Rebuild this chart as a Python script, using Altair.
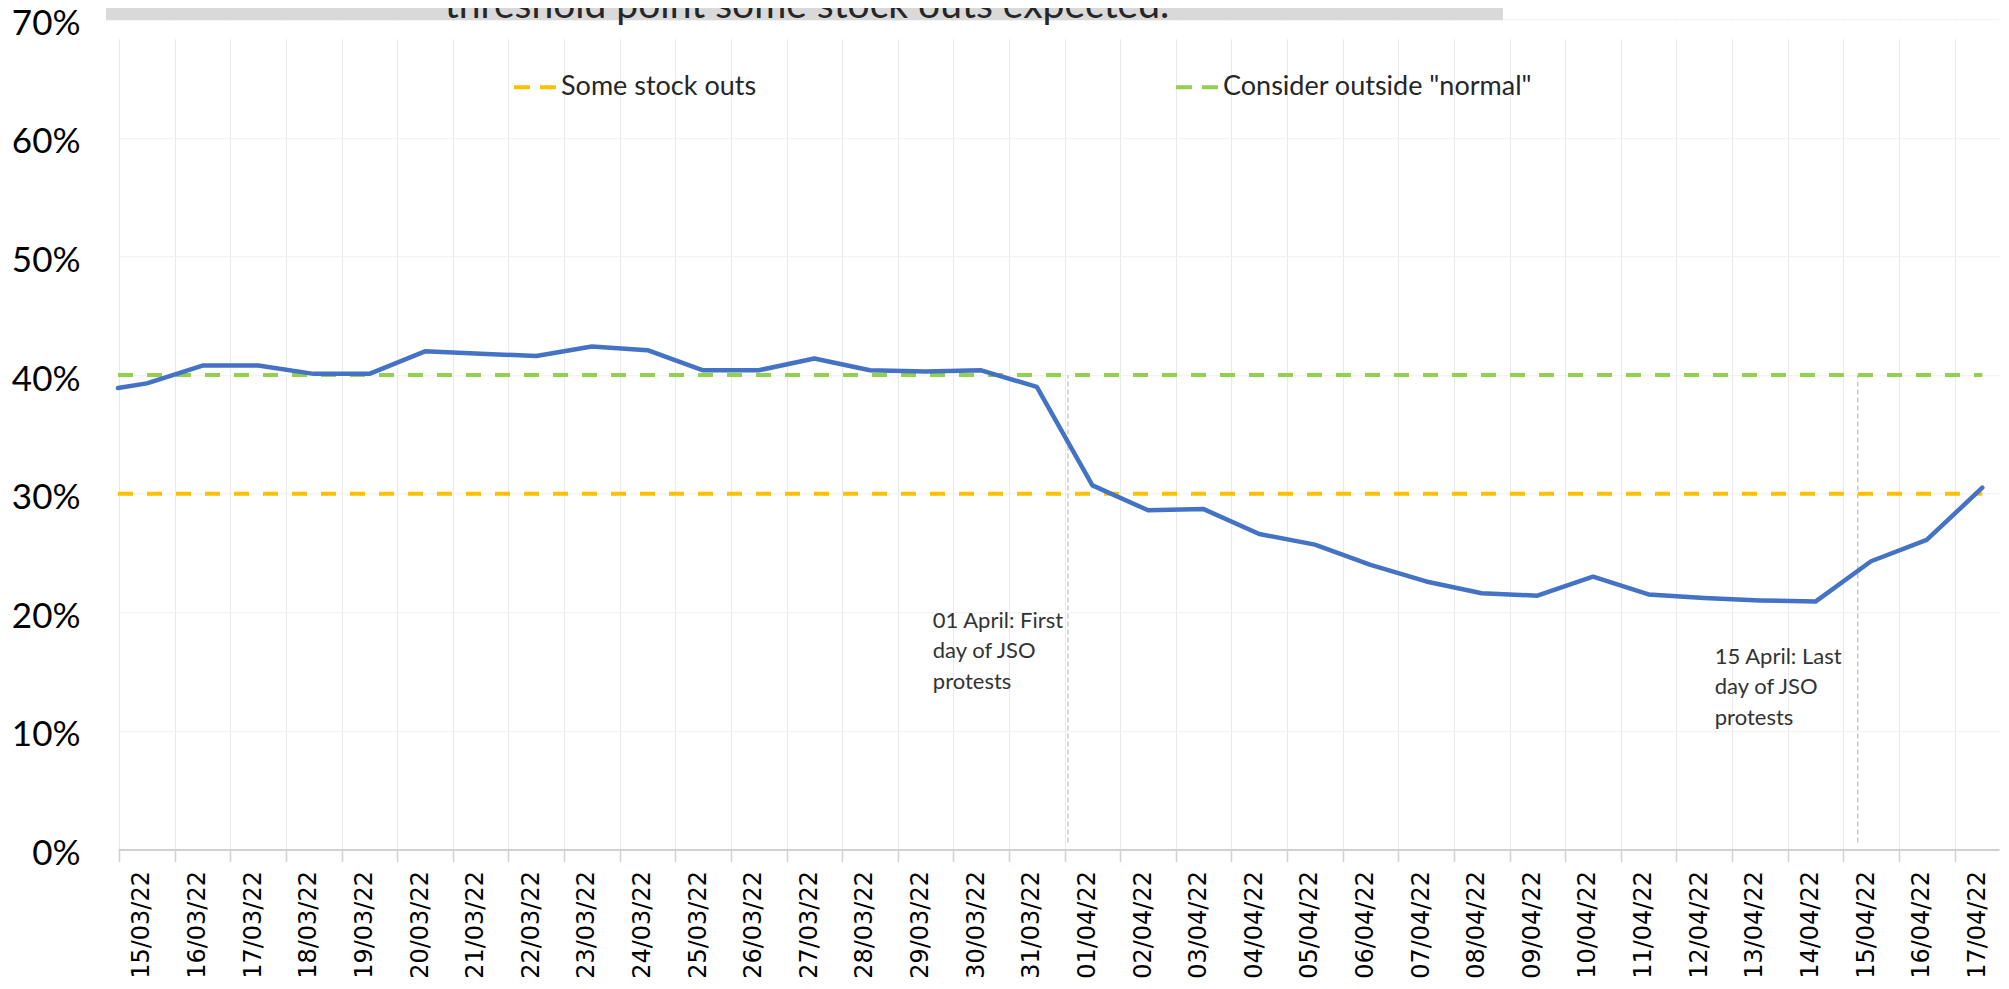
import json
import altair as alt
import pandas as pd

# ---------------- data ----------------
dates = ["15/03/22", "16/03/22", "17/03/22", "18/03/22", "19/03/22", "20/03/22",
         "21/03/22", "22/03/22", "23/03/22", "24/03/22", "25/03/22", "26/03/22",
         "27/03/22", "28/03/22", "29/03/22", "30/03/22", "31/03/22", "01/04/22",
         "02/04/22", "03/04/22", "04/04/22", "05/04/22", "06/04/22", "07/04/22",
         "08/04/22", "09/04/22", "10/04/22", "11/04/22", "12/04/22", "13/04/22",
         "14/04/22", "15/04/22", "16/04/22", "17/04/22"]

share = [0.393, 0.408, 0.408, 0.401, 0.401, 0.420, 0.418, 0.416, 0.424, 0.421,
         0.404, 0.404, 0.414, 0.404, 0.403, 0.404, 0.390, 0.307, 0.286, 0.287,
         0.266, 0.257, 0.240, 0.226, 0.216, 0.214, 0.230, 0.215, 0.212, 0.210,
         0.209, 0.243, 0.261, 0.305]

edge_share = 0.389  # where the series enters at the left edge of the plot

threshold_names = ["Some stock outs", 'Consider outside "normal"']
threshold_values = [0.30, 0.40]
threshold_colors = ["#FFC000", "#92D050"]

event_dates = ["01/04/22", "15/04/22"]
event_labels = ["01 April: First\nday of JSO\nprotests",
                "15 April: Last\nday of JSO\nprotests"]

title_line = "threshold point some stock outs expected."

y_ticks = [0.0, 0.1, 0.2, 0.3, 0.4, 0.5, 0.6, 0.7]

# ---------------- layout ----------------
W, H = 1881, 830.3
X_MIN, X_MAX = -0.52, 33.3
STEP = W / (X_MAX - X_MIN)
n = len(dates)

xscale = alt.Scale(domain=[X_MIN, X_MAX], nice=False, zero=False)
yscale = alt.Scale(domain=[0, 0.7], nice=False, zero=True)

label_array = json.dumps(dates)
x_axis = alt.Axis(
    title=None,
    values=[i - 0.5 for i in range(n)],
    labelExpr=f"{label_array}[round(datum.value + 0.5)]",
    labelAngle=270, labelOffset=STEP / 2 - 5,
    labelFont="DejaVu Sans", labelFontSize=24, labelColor="#000000",
    labelPadding=9, labelFlush=False, labelOverlap=False, labelBound=False,
    tickSize=12, tickColor="#D0D0D0", tickWidth=1.5,
    domainColor="#D0D0D0", domainWidth=2,
    grid=True, gridColor="#E9E9E9", gridWidth=1,
)
y_axis = alt.Axis(
    title=None, values=y_ticks, format=".0%",
    labelFont="Lato", labelFontSize=35, labelColor="#000000",
    labelPadding=38, labelOffset=4, ticks=False, domain=False,
    grid=True, gridColor="#F0F0F0", gridWidth=1,
)

line_df = pd.DataFrame({"idx": [X_MIN] + list(range(n)),
                        "value": [edge_share] + share})

thr_df = pd.DataFrame({"name": threshold_names, "value": threshold_values,
                       "start": X_MIN, "end": n - 1})

marker_offsets = [-0.44, -0.24]
ev_df = pd.DataFrame({
    "pos": [dates.index(d) + o for d, o in zip(event_dates, marker_offsets)],
    "y0": 0.006, "y1": 0.40,
})

ann_df = pd.DataFrame({"label": event_labels,
                       "tx": [14.13, 28.19], "ty": [0.1927, 0.1623]})

title_df = pd.DataFrame({"t": [title_line]})

base = alt.Chart(line_df)

# white band under the title box (legend area background)
top_band = alt.Chart(title_df).mark_rect(color="#FFFFFF").encode(
    x=alt.value(0), x2=alt.value(W), y=alt.value(1.5), y2=alt.value(20))
title_box = alt.Chart(title_df).mark_rect(color="#D9D9D9").encode(
    x=alt.value(-12), x2=alt.value(1385), y=alt.value(-30), y2=alt.value(1))
title_text = alt.Chart(title_df).mark_text(
    align="center", baseline="alphabetic", font="Lato", fontSize=39,
    color="#262626").encode(x=alt.value(689), y=alt.value(-1), text="t:N")

thresholds = alt.Chart(thr_df).mark_rule(strokeWidth=4, strokeDash=[15, 14]).encode(
    x=alt.X("start:Q", scale=xscale, axis=x_axis),
    x2="end:Q",
    y=alt.Y("value:Q", scale=yscale, axis=y_axis),
    color=alt.Color("name:N",
                    scale=alt.Scale(domain=threshold_names, range=threshold_colors),
                    legend=alt.Legend(
                        title=None, orient="none", legendX=394, legendY=45,
                        direction="horizontal", columns=2,
                        symbolType="stroke", symbolDash=[16, 10],
                        symbolStrokeWidth=4, symbolSize=42 * 42,
                        labelFont="Lato", labelFontSize=27, labelColor="#262626",
                        labelOffset=3, labelLimit=600, columnPadding=411,
                        padding=0)),
)

markers = alt.Chart(ev_df).mark_rule(color="#BDBDBD", strokeWidth=1.2,
                                     strokeDash=[5, 3]).encode(
    x=alt.X("pos:Q", scale=xscale, axis=x_axis),
    y=alt.Y("y0:Q", scale=yscale, axis=y_axis),
    y2="y1:Q",
)

line = base.mark_line(color="#4472C4", strokeWidth=4.5, strokeJoin="round",
                      strokeCap="round").encode(
    x=alt.X("idx:Q", scale=xscale, axis=x_axis),
    y=alt.Y("value:Q", scale=yscale, axis=y_axis),
)

annotations = alt.Chart(ann_df).mark_text(
    align="left", baseline="middle", lineBreak="\n", lineHeight=30.5,
    font="Lato", fontSize=22, color="#333333").encode(
    x=alt.X("tx:Q", scale=xscale, axis=x_axis),
    y=alt.Y("ty:Q", scale=yscale, axis=y_axis),
    text="label:N",
)

chart = alt.layer(markers, top_band, thresholds, line, annotations,
                  title_box, title_text).properties(
    width=W, height=H,
    autosize=alt.AutoSizeParams(type="none"),
    padding={"left": 110, "top": 11.2, "right": 2, "bottom": 139.5},
).configure_view(stroke=None)

chart.save("out.html", embed_options={"renderer": "svg", "actions": False})
